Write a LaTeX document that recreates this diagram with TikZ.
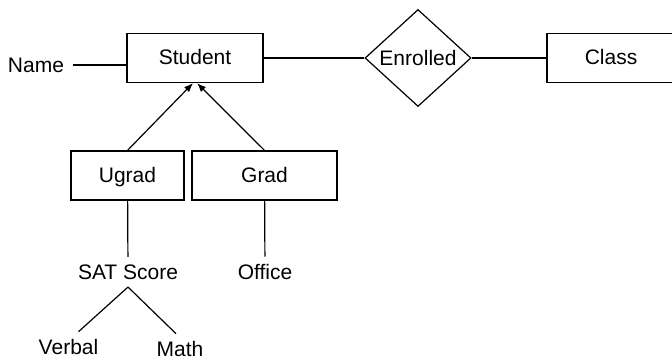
\documentclass[tikz,border=0pt]{standalone}
\usepackage{fontspec}
\setmainfont{Liberation Sans}
\usetikzlibrary{shapes.geometric,arrows.meta}
\begin{document}
\begin{tikzpicture}[x=0.5pt,y=0.5pt,line width=0.6pt,
  every node/.style={font=\fontsize{10.5}{12}\selectfont},
  entity/.style={draw,minimum height=24.5pt,inner sep=0pt,text height=8pt,text depth=1pt},
  attr/.style={inner sep=3.5pt},
  isa/.style={-{Latex[length=4.5pt,width=3.5pt]}}]
\useasboundingbox (0,0) rectangle (672,358);
\node[entity,minimum width=68pt] (student) at (195,300) {Student};
\node[attr,inner sep=4pt] (name) at (36,293) {Name};
\node[draw,diamond,inner sep=0pt,minimum width=53pt,minimum height=48.5pt] (enrolled) at (418,300) {Enrolled};
\node[entity,minimum width=64pt] (class) at (611,300) {Class};
\node[entity,minimum width=56.5pt] (ugrad) at (127.5,182.5) {Ugrad};
\node[entity,minimum width=72.5pt] (grad) at (264.5,182.5) {Grad};
\node[attr] (sat) at (128,86) {SAT Score};
\node[attr] (office) at (265,86) {Office};
\node[attr] (verbal) at (68.5,11) {Verbal};
\node[attr] (math) at (180,9) {Math};
\draw (name) -- (name -| student.west);
\draw (student) -- (enrolled) -- (class);
\draw[isa] (ugrad.north) -- ([xshift=-1pt]student.south);
\draw[isa] (grad.north) -- ([xshift=1pt]student.south);
\draw (ugrad) -- (sat);
\draw (grad) -- (office);
\draw (sat.south) -- ([xshift=5pt]verbal.north);
\draw (sat.south) -- ([xshift=-2pt]math.north);
\end{tikzpicture}
\end{document}
